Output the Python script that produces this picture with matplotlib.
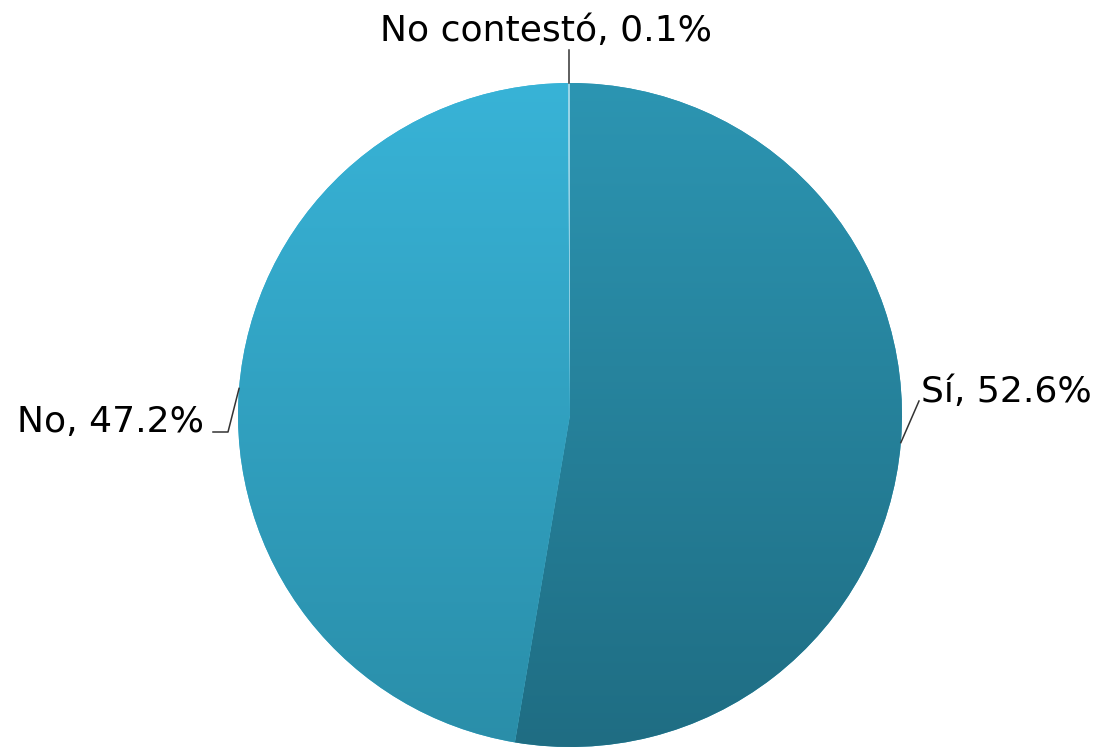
import matplotlib
matplotlib.use("Agg")
import matplotlib.pyplot as plt
import numpy as np
from matplotlib.colors import LinearSegmentedColormap

# data
labels = ["Sí", "No", "No contestó"]
values = [52.6, 47.2, 0.1]
top_colors = ["#2c95b2", "#38b3d7", "#9ad6e8"]
bottom_colors = ["#1f6d83", "#2a8ea9", "#7cc2d8"]

W, H = 1105, 748
cx, cy, r = 570, H - 415, 332

fig = plt.figure(figsize=(W / 100, H / 100), dpi=100)
ax = fig.add_axes([0, 0, 1, 1])
ax.set_xlim(0, W)
ax.set_ylim(0, H)
ax.set_aspect("equal")
ax.axis("off")

wedges, _ = ax.pie(
    values,
    center=(cx, cy),
    radius=r,
    startangle=90,
    counterclock=False,
    colors=top_colors,
    wedgeprops=dict(linewidth=0),
)
ax.set_xlim(0, W)
ax.set_ylim(0, H)

# vertical gradient in each slice
grad = np.linspace(0, 1, 256).reshape(-1, 1)
for w, c0, c1 in zip(wedges, top_colors, bottom_colors):
    cmap = LinearSegmentedColormap.from_list("g", [c1, c0])
    im = ax.imshow(
        grad,
        cmap=cmap,
        aspect="auto",
        origin="lower",
        extent=(cx - r, cx + r, cy - r, cy + r),
        zorder=2,
    )
    im.set_clip_path(w)

ax.set_xlim(0, W)
ax.set_ylim(0, H)

fs = 26
line_kw = dict(color="#333333", lw=1.1, zorder=3)


def edge_point(w):
    ang = np.deg2rad((w.theta1 + w.theta2) / 2)
    return cx + r * np.cos(ang), cy + r * np.sin(ang)


def fmt(lab, v):
    return f"{lab}, {v:.1f}%"


# Sí
x0, y0 = edge_point(wedges[0])
ax.plot([x0, 919], [y0, 347], **line_kw)
ax.text(921, 346, fmt(labels[0], values[0]), fontsize=fs, ha="left", va="baseline")

# No
x0, y0 = edge_point(wedges[1])
ax.plot([x0, 228, 213], [y0, 316, 316], **line_kw)
ax.text(204, 316, fmt(labels[1], values[1]), fontsize=fs, ha="right", va="baseline")

# No contestó
x0, y0 = edge_point(wedges[2])
ax.plot([x0, x0], [y0, 698], **line_kw)
ax.text(546, 707, fmt(labels[2], values[2]), fontsize=fs, ha="center", va="baseline")

fig.savefig("out.png", dpi=100)
